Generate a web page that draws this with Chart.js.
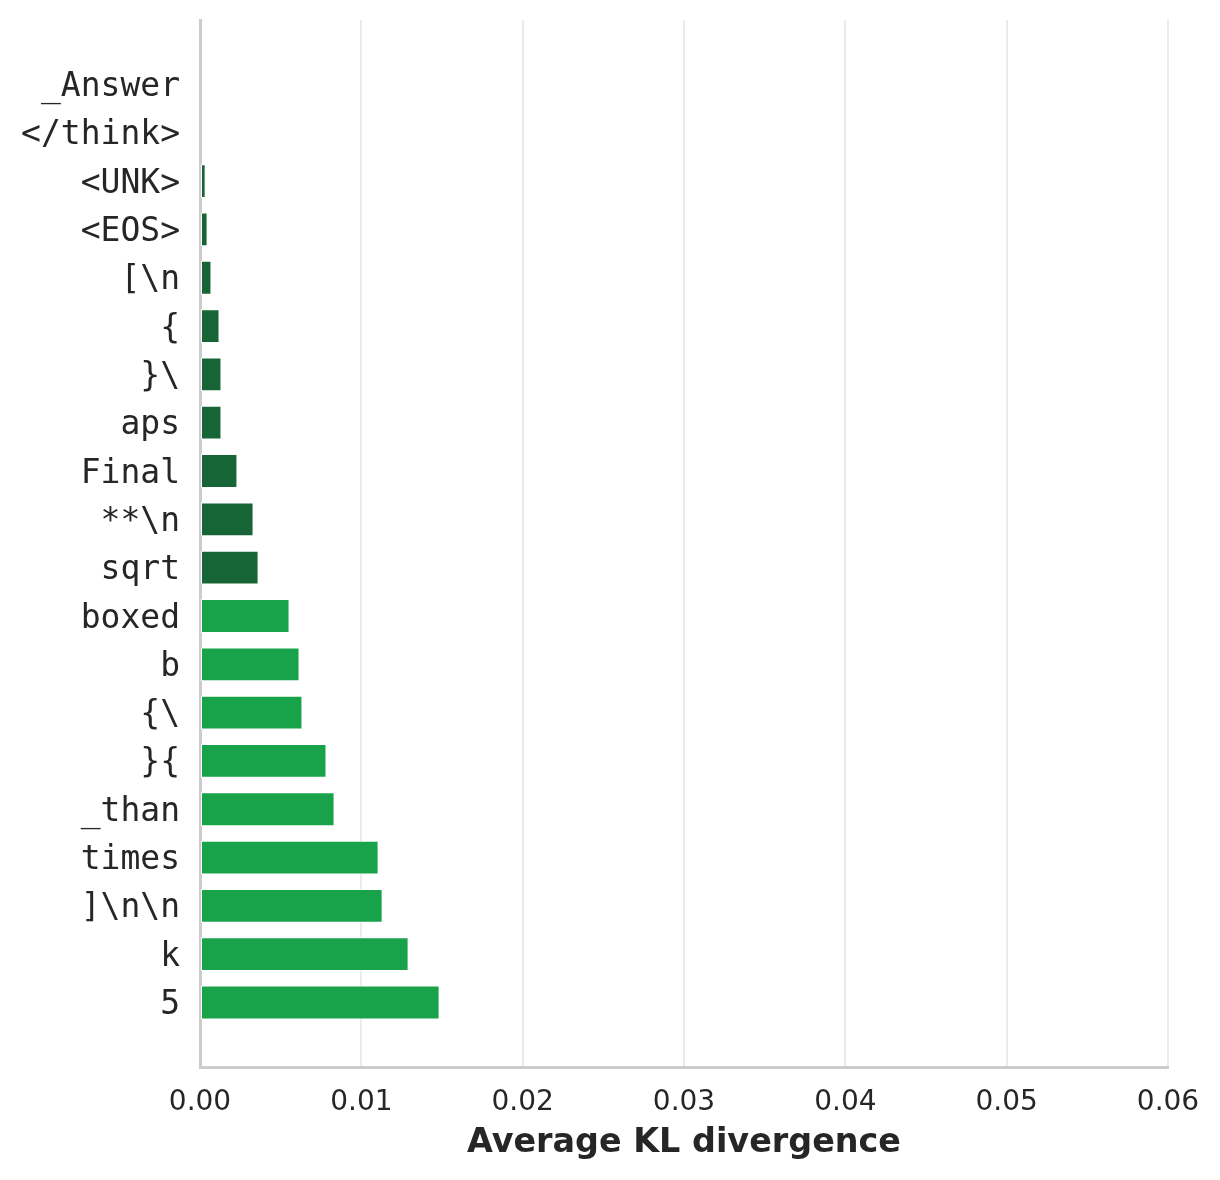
<!DOCTYPE html>
<html>
<head>
<meta charset="utf-8">
<script src="https://cdn.jsdelivr.net/npm/chart.js@4.4.1/dist/chart.umd.min.js"></script>
<style>
  html, body { margin: 0; padding: 0; background: #ffffff; }
  #wrap { width: 1220px; height: 1180px; }
</style>
</head>
<body>
<div id="wrap"><canvas id="c" width="1220" height="1180"></canvas></div>
<script>
// Tokens, top to bottom
const tokens = ['_Answer', '</think>', '<UNK>', '<EOS>', '[\\n', '{', '}\\', 'aps', 'Final', '**\\n',
  'sqrt', 'boxed', 'b', '{\\', '}{', '_than', 'times', ']\\n\\n', 'k', '5'];
// Average KL divergence per token
const klValues = [0.0, 0.0, 0.00035, 0.00047, 0.00071, 0.00121, 0.00133, 0.00133, 0.00232, 0.00332,
  0.00363, 0.00555, 0.00617, 0.00635, 0.00784, 0.00834, 0.01107, 0.01132, 0.01293, 0.01485];
// Group of each token (low = dark green, high = light green)
const groups = ['low', 'low', 'low', 'low', 'low', 'low', 'low', 'low', 'low', 'low',
  'low', 'high', 'high', 'high', 'high', 'high', 'high', 'high', 'high', 'high'];
const xTicks = [0, 0.01, 0.02, 0.03, 0.04, 0.05, 0.06];

const groupColor = { low: '#176436', high: '#18a34a' };

const points = tokens.map((t, i) => ({ x: klValues[i], y: i }));

new Chart(document.getElementById('c'), {
  type: 'bar',
  data: {
    datasets: [{
      data: points,
      backgroundColor: ctx => groupColor[groups[ctx.dataIndex]],
      borderColor: '#ffffff',
      borderWidth: 1,
      borderSkipped: false,
      categoryPercentage: 1.0,
      barPercentage: 0.7
    }]
  },
  options: {
    indexAxis: 'y',
    responsive: false,
    animation: false,
    devicePixelRatio: 1,
    layout: { padding: { top: 20, right: 52, left: 0, bottom: 0 } },
    plugins: { legend: { display: false }, tooltip: { enabled: false } },
    scales: {
      x: {
        type: 'linear',
        offset: false,
        min: 0,
        max: 0.06,
        afterFit: s => { s.height = 113; },
        afterBuildTicks: s => { s.ticks = xTicks.map(v => ({ value: v })); },
        grid: { color: '#ebebeb', lineWidth: 2, drawTicks: false },
        border: { display: true, color: '#cccccc', width: 3 },
        ticks: {
          padding: 19,
          color: '#262626',
          font: { family: 'DejaVu Sans', size: 28 },
          callback: v => Number(v).toFixed(2)
        },
        title: {
          display: true,
          text: 'Average KL divergence',
          color: '#262626',
          font: { family: 'DejaVu Sans', size: 33.4, weight: 'bold' },
          padding: { top: 0, bottom: 17 }
        }
      },
      y: {
        type: 'linear',
        offset: false,
        reverse: true,
        min: -1.335,
        max: 20.335,
        afterFit: s => { s.width = 200; s.paddingTop = 0; s.paddingBottom = 0; },
        afterBuildTicks: s => { s.ticks = tokens.map((t, i) => ({ value: i })); },
        grid: { display: false, drawTicks: false },
        border: { display: true, color: '#cccccc', width: 3 },
        ticks: {
          autoSkip: false,
          padding: 20,
          labelOffset: 3,
          color: '#262626',
          font: { family: 'DejaVu Sans Mono', size: 33 },
          callback: v => tokens[v]
        }
      }
    }
  }
});
</script>
</body>
</html>
